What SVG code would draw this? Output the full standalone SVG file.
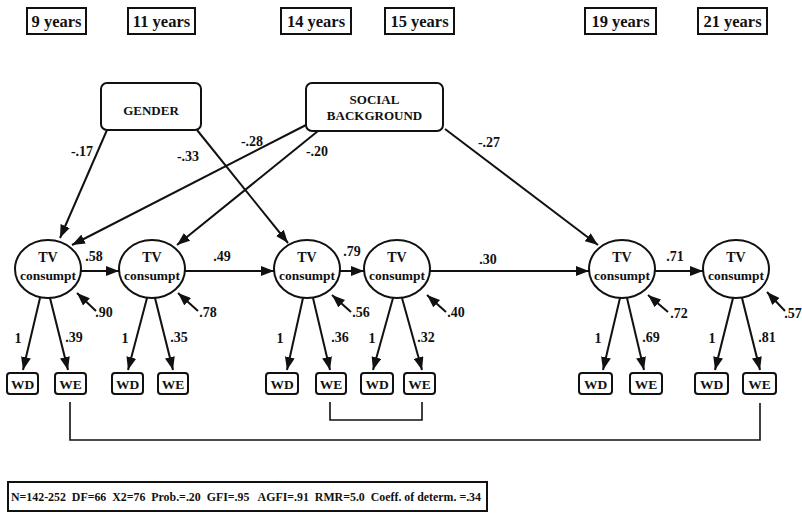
<svg xmlns="http://www.w3.org/2000/svg" width="802" height="514" viewBox="0 0 802 514">
  <defs>
    <marker id="arrow" markerUnits="userSpaceOnUse" markerWidth="13" markerHeight="10" refX="13" refY="5" orient="auto">
      <path d="M0,0 L13,5 L0,10 z" fill="#111"/>
    </marker>
    <style>
      text { font-family: "Liberation Serif", "DejaVu Serif", serif; fill: #111; font-weight: bold; }
      .yr { font-size: 16.5px; text-anchor: middle; }
      .box { fill: none; stroke: #111; stroke-width: 2; }
      .cap { font-size: 13px; text-anchor: middle; }
      .tv { font-size: 14px; text-anchor: middle; }
      .cons { font-size: 12px; text-anchor: middle; }
      .ind { font-size: 13.5px; text-anchor: middle; }
      .lbl { font-size: 14px; text-anchor: middle; }
      .arr { stroke: #111; stroke-width: 2; fill: none; marker-end: url(#arrow); }
      .br { stroke: #111; stroke-width: 1.6; fill: none; }
      .stat { font-size: 12px; white-space: pre; }
    </style>
  </defs>

  <!-- age headings -->
  <g id="ages">
    <rect class="box" x="27" y="8" width="59" height="26"/><text class="yr" x="56.5" y="27">9 years</text>
    <rect class="box" x="128" y="8" width="67" height="26"/><text class="yr" x="161.5" y="27">11 years</text>
    <rect class="box" x="281" y="8" width="70" height="26"/><text class="yr" x="316" y="27">14 years</text>
    <rect class="box" x="385" y="8" width="69" height="26"/><text class="yr" x="419.5" y="27">15 years</text>
    <rect class="box" x="585" y="8" width="71" height="26"/><text class="yr" x="620.5" y="27">19 years</text>
    <rect class="box" x="698" y="8" width="69" height="26"/><text class="yr" x="732.5" y="27">21 years</text>
  </g>

  <!-- exogenous variables -->
  <g id="gender">
    <rect class="box" x="101" y="83" width="100" height="47" rx="6"/>
    <text class="cap" x="151" y="115">GENDER</text>
  </g>
  <g id="social">
    <rect class="box" x="306" y="83" width="137" height="48" rx="6"/>
    <text class="cap" x="374.5" y="104">SOCIAL</text>
    <text class="cap" x="374.5" y="120">BACKGROUND</text>
  </g>

  <!-- connectors -->
  <g id="connectors">
    <!-- paths from gender and social background -->
    <line class="arr" x1="107" y1="130" x2="60" y2="238"/>
    <line class="arr" x1="197" y1="130" x2="288" y2="243"/>
    <line class="arr" x1="306" y1="125" x2="72" y2="245"/>
    <line class="arr" x1="318" y1="131" x2="177" y2="245"/>
    <line class="arr" x1="445" y1="129" x2="598" y2="245"/>
    <!-- stability paths -->
    <line class="arr" x1="81" y1="271" x2="119" y2="271"/>
    <line class="arr" x1="185" y1="271" x2="274" y2="271"/>
    <line class="arr" x1="340" y1="271" x2="364" y2="271"/>
    <line class="arr" x1="430" y1="271" x2="589" y2="271"/>
    <line class="arr" x1="655" y1="271" x2="703" y2="271"/>
    <!-- residuals -->
    <line class="arr" x1="96" y1="311" x2="77" y2="293"/>
    <line class="arr" x1="198" y1="311" x2="178" y2="293"/>
    <line class="arr" x1="351" y1="312" x2="332" y2="295"/>
    <line class="arr" x1="446" y1="312" x2="427" y2="295"/>
    <line class="arr" x1="668" y1="312" x2="648" y2="295"/>
    <line class="arr" x1="785" y1="311" x2="767" y2="292"/>
    <!-- indicators -->
    <line class="arr" x1="40" y1="298" x2="23" y2="370"/>
    <line class="arr" x1="50" y1="298" x2="68" y2="370"/>
    <line class="arr" x1="147" y1="298" x2="128" y2="370"/>
    <line class="arr" x1="155" y1="298" x2="173" y2="370"/>
    <line class="arr" x1="303" y1="298" x2="287" y2="370"/>
    <line class="arr" x1="313" y1="298" x2="330" y2="370"/>
    <line class="arr" x1="393" y1="298" x2="373" y2="370"/>
    <line class="arr" x1="402" y1="298" x2="422" y2="370"/>
    <line class="arr" x1="620" y1="298" x2="603" y2="370"/>
    <line class="arr" x1="627" y1="298" x2="644" y2="370"/>
    <line class="arr" x1="733" y1="298" x2="715" y2="370"/>
    <line class="arr" x1="742" y1="298" x2="760" y2="370"/>
    <!-- correlated errors -->
    <polyline class="br" points="70,402 70,440 760,440 760,403"/>
    <polyline class="br" points="330,402 330,420 422,420 422,402"/>
  </g>

  <!-- path coefficients -->
  <g id="coefficients">
    <text class="lbl" x="82" y="156">-.17</text>
    <text class="lbl" x="188" y="161">-.33</text>
    <text class="lbl" x="252" y="146">-.28</text>
    <text class="lbl" x="317" y="156">-.20</text>
    <text class="lbl" x="489" y="147">-.27</text>
    <text class="lbl" x="94" y="261">.58</text>
    <text class="lbl" x="222" y="261">.49</text>
    <text class="lbl" x="352" y="256">.79</text>
    <text class="lbl" x="488" y="264">.30</text>
    <text class="lbl" x="675" y="261">.71</text>
    <text class="lbl" x="104" y="317">.90</text>
    <text class="lbl" x="208" y="317">.78</text>
    <text class="lbl" x="361" y="317">.56</text>
    <text class="lbl" x="456" y="317">.40</text>
    <text class="lbl" x="679" y="318">.72</text>
    <text class="lbl" x="793" y="318">.57</text>
    <text class="lbl" x="18" y="343">1</text>
    <text class="lbl" x="74" y="342">.39</text>
    <text class="lbl" x="125" y="343">1</text>
    <text class="lbl" x="179" y="342">.35</text>
    <text class="lbl" x="280" y="343">1</text>
    <text class="lbl" x="340" y="342">.36</text>
    <text class="lbl" x="372" y="343">1</text>
    <text class="lbl" x="426" y="342">.32</text>
    <text class="lbl" x="598" y="343">1</text>
    <text class="lbl" x="651" y="342">.69</text>
    <text class="lbl" x="712" y="343">1</text>
    <text class="lbl" x="767" y="342">.81</text>
  </g>

  <!-- latent TV consumption -->
  <g id="tv9"><ellipse class="box" cx="48" cy="269" rx="33" ry="29"/><text class="tv" x="48" y="262">TV</text><text class="cons" x="48" y="280" textLength="56" lengthAdjust="spacingAndGlyphs">consumpt</text></g>
  <g id="tv11"><ellipse class="box" cx="152" cy="269" rx="33" ry="29"/><text class="tv" x="152" y="262">TV</text><text class="cons" x="152" y="280" textLength="56" lengthAdjust="spacingAndGlyphs">consumpt</text></g>
  <g id="tv14"><ellipse class="box" cx="307" cy="269" rx="33" ry="29"/><text class="tv" x="307" y="262">TV</text><text class="cons" x="307" y="280" textLength="56" lengthAdjust="spacingAndGlyphs">consumpt</text></g>
  <g id="tv15"><ellipse class="box" cx="397" cy="269" rx="33" ry="29"/><text class="tv" x="397" y="262">TV</text><text class="cons" x="397" y="280" textLength="56" lengthAdjust="spacingAndGlyphs">consumpt</text></g>
  <g id="tv19"><ellipse class="box" cx="622" cy="269" rx="33" ry="29"/><text class="tv" x="622" y="262">TV</text><text class="cons" x="622" y="280" textLength="56" lengthAdjust="spacingAndGlyphs">consumpt</text></g>
  <g id="tv21"><ellipse class="box" cx="736" cy="269" rx="33" ry="29"/><text class="tv" x="736" y="262">TV</text><text class="cons" x="736" y="280" textLength="56" lengthAdjust="spacingAndGlyphs">consumpt</text></g>

  <!-- indicators: weekday / weekend viewing -->
  <g id="wd9"><rect class="box" x="7" y="373" width="31" height="21" rx="3"/><text class="ind" x="22.5" y="388.5">WD</text></g>
  <g id="we9"><rect class="box" x="55" y="373" width="31" height="21" rx="3"/><text class="ind" x="70.5" y="388.5">WE</text></g>
  <g id="wd11"><rect class="box" x="112" y="373" width="31" height="21" rx="3"/><text class="ind" x="127.5" y="388.5">WD</text></g>
  <g id="we11"><rect class="box" x="158" y="373" width="30" height="21" rx="3"/><text class="ind" x="173" y="388.5">WE</text></g>
  <g id="wd14"><rect class="box" x="266" y="373" width="32" height="21" rx="3"/><text class="ind" x="282" y="388.5">WD</text></g>
  <g id="we14"><rect class="box" x="316" y="373" width="30" height="21" rx="3"/><text class="ind" x="331" y="388.5">WE</text></g>
  <g id="wd15"><rect class="box" x="361" y="373" width="32" height="21" rx="3"/><text class="ind" x="377" y="388.5">WD</text></g>
  <g id="we15"><rect class="box" x="404" y="373" width="31" height="21" rx="3"/><text class="ind" x="419.5" y="388.5">WE</text></g>
  <g id="wd19"><rect class="box" x="579" y="373" width="33" height="21" rx="3"/><text class="ind" x="595.5" y="388.5">WD</text></g>
  <g id="we19"><rect class="box" x="630" y="373" width="32" height="21" rx="3"/><text class="ind" x="646" y="388.5">WE</text></g>
  <g id="wd21"><rect class="box" x="695" y="373" width="33" height="21" rx="3"/><text class="ind" x="711.5" y="388.5">WD</text></g>
  <g id="we21"><rect class="box" x="743" y="373" width="33" height="21" rx="3"/><text class="ind" x="759.5" y="388.5">WE</text></g>

  <!-- fit statistics -->
  <g id="fit">
    <rect class="box" x="8" y="482" width="479" height="29"/>
    <text class="stat" x="11" y="501" textLength="470" lengthAdjust="spacingAndGlyphs" xml:space="preserve">N=142-252  DF=66  X2=76  Prob.=.20  GFI=.95   AGFI=.91  RMR=5.0  Coeff. of determ. =.34</text>
  </g>
</svg>
